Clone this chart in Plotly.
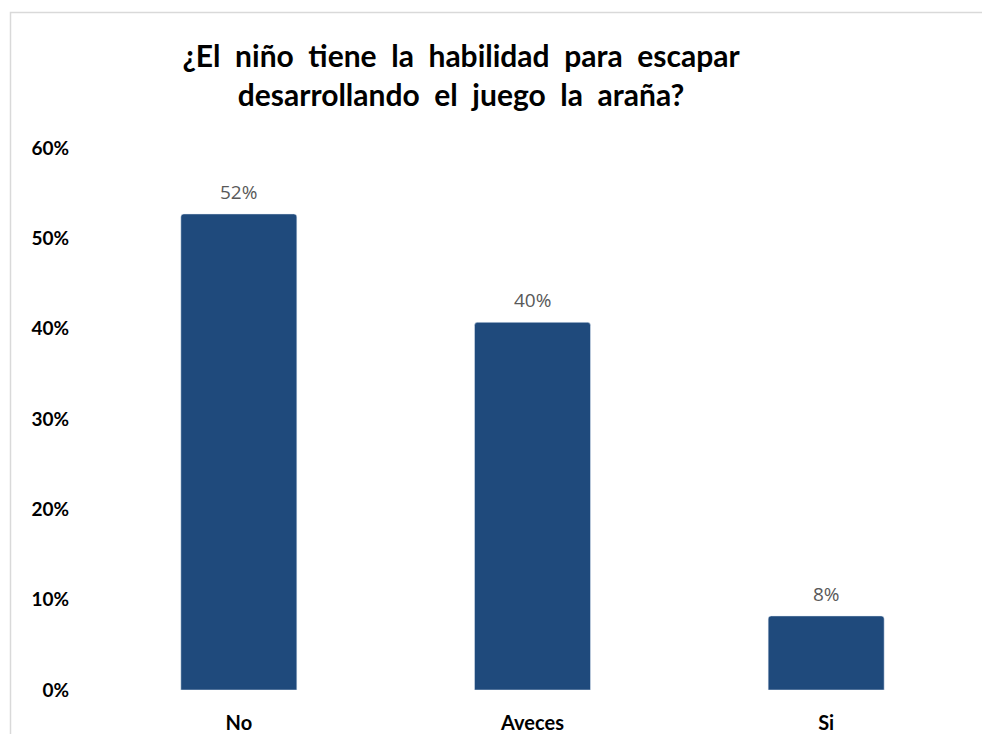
import plotly.graph_objects as go

categories = ["No", "Aveces", "Si"]
values = [0.527, 0.407, 0.082]
value_labels = ["52%", "40%", "8%"]
tick_vals = [0, 0.1, 0.2, 0.3, 0.4, 0.5, 0.6]
tick_text = ["0%", "10%", "20%", "30%", "40%", "50%", "60%"]

OFF = 8  # page body margin
W, H = 990 - 2 * OFF, 742 - 2 * OFF
# target plot area in window pixels: x 92..973, y 148..690
ML, MR = 92 - OFF, (W + OFF) - 973
MT, MB = 148 - OFF, (H + OFF) - 690
pw = W - ML - MR
ph = H - MT - MB

def px_x(px):
    return (px - OFF - ML) / pw

def px_y(py):
    return (H - MB - (py - OFF)) / ph

sp = " \u00a0"
title_text = sp.join("¿El niño tiene la habilidad para escapar".split()) + "<br>" + \
    sp.join("desarrollando el juego la araña?".split())

fig = go.Figure(go.Bar(
    x=categories, y=values,
    marker=dict(color="#1F4A7C", cornerradius=3),
    width=0.395,
))

for c, v, t in zip(categories, values, value_labels):
    fig.add_annotation(x=c, y=v, text=t, showarrow=False, yanchor="bottom", yshift=7,
                       font=dict(family="Open Sans", size=19, color="#595959"))

fig.update_layout(
    width=W, height=H,
    margin=dict(l=ML, r=MR, t=MT, b=MB, autoexpand=False),
    paper_bgcolor="white", plot_bgcolor="white",
    showlegend=False,
    title=dict(
        text=title_text, automargin=False,
        x=(461 - OFF) / W, xanchor="center", xref="container",
        y=1 - (67 - OFF) / H, yanchor="middle", yref="container",
        font=dict(family="Lato", size=30, color="black", weight="bold"),
    ),
    xaxis=dict(
        showgrid=False, showline=False, zeroline=False, automargin=False,
        tickfont=dict(family="Lato", size=20, color="black", weight="bold"),
        ticklabelstandoff=19,
    ),
    yaxis=dict(
        range=[0, 0.6], tickvals=tick_vals, ticktext=tick_text,
        showgrid=False, showline=False, zeroline=False, automargin=False,
        tickfont=dict(family="Lato", size=19, color="black", weight="bold"),
        ticklabelstandoff=22,
    ),
    shapes=[dict(
        type="rect", xref="paper", yref="paper",
        x0=px_x(10.5), x1=px_x(1005), y0=px_y(12.5), y1=px_y(760),
        line=dict(color="#D9D9D9", width=1.5), fillcolor="rgba(0,0,0,0)",
        layer="below",
    )],
)

fig.write_html("out.html")
